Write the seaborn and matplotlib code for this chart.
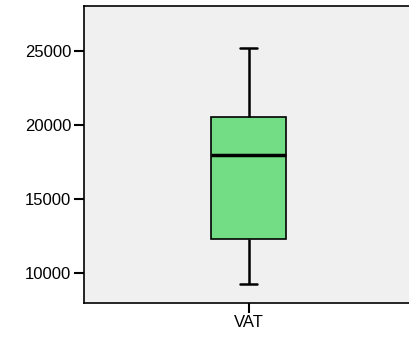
import numpy as np
import pandas as pd
import matplotlib
matplotlib.use("Agg")
import matplotlib.pyplot as plt
import seaborn as sns

# five-number summary (min, Q1, median, Q3, max)
category = "VAT"
vat_values = [9280, 12310, 17960, 20520, 25200]
y_ticks = [10000, 15000, 20000, 25000]

df = pd.DataFrame({"group": [category] * len(vat_values), "value": vat_values})

sns.set_style("white")
plt.rcParams["font.family"] = ["Liberation Sans", "DejaVu Sans"]

fig = plt.figure(figsize=(4.09, 3.39), dpi=100)
ax = fig.add_axes([84 / 409, (339 - 302.5) / 339, (413 - 84) / 409, (302.5 - 5.5) / 339])
ax.set_facecolor("#f0f0f0")

sns.boxplot(data=df, x="group", y="value", ax=ax, width=0.226, whis=1.5,
            color="#72dd84", saturation=1,
            boxprops=dict(edgecolor="black", linewidth=1.2),
            whiskerprops=dict(color="black", linewidth=1.8),
            capprops=dict(color="black", linewidth=1.8),
            medianprops=dict(color="black", linewidth=2.5),
            capwidths=0.052)

ax.set_xlim(-0.5, 0.5)
ax.set_ylim(8020, 28040)
ax.set_yticks(y_ticks)
ax.set_yticklabels([str(t) for t in y_ticks])
ax.set_xlabel("")
ax.set_ylabel("")
for side in ["left", "bottom", "top", "right"]:
    ax.spines[side].set_visible(True)
    ax.spines[side].set_color("black")
    ax.spines[side].set_linewidth(1.2)
ax.tick_params(axis="both", length=7, width=1.5, direction="out", colors="black",
               labelsize=12, left=True, bottom=True, pad=2)

fig.savefig("out.png", dpi=100)
